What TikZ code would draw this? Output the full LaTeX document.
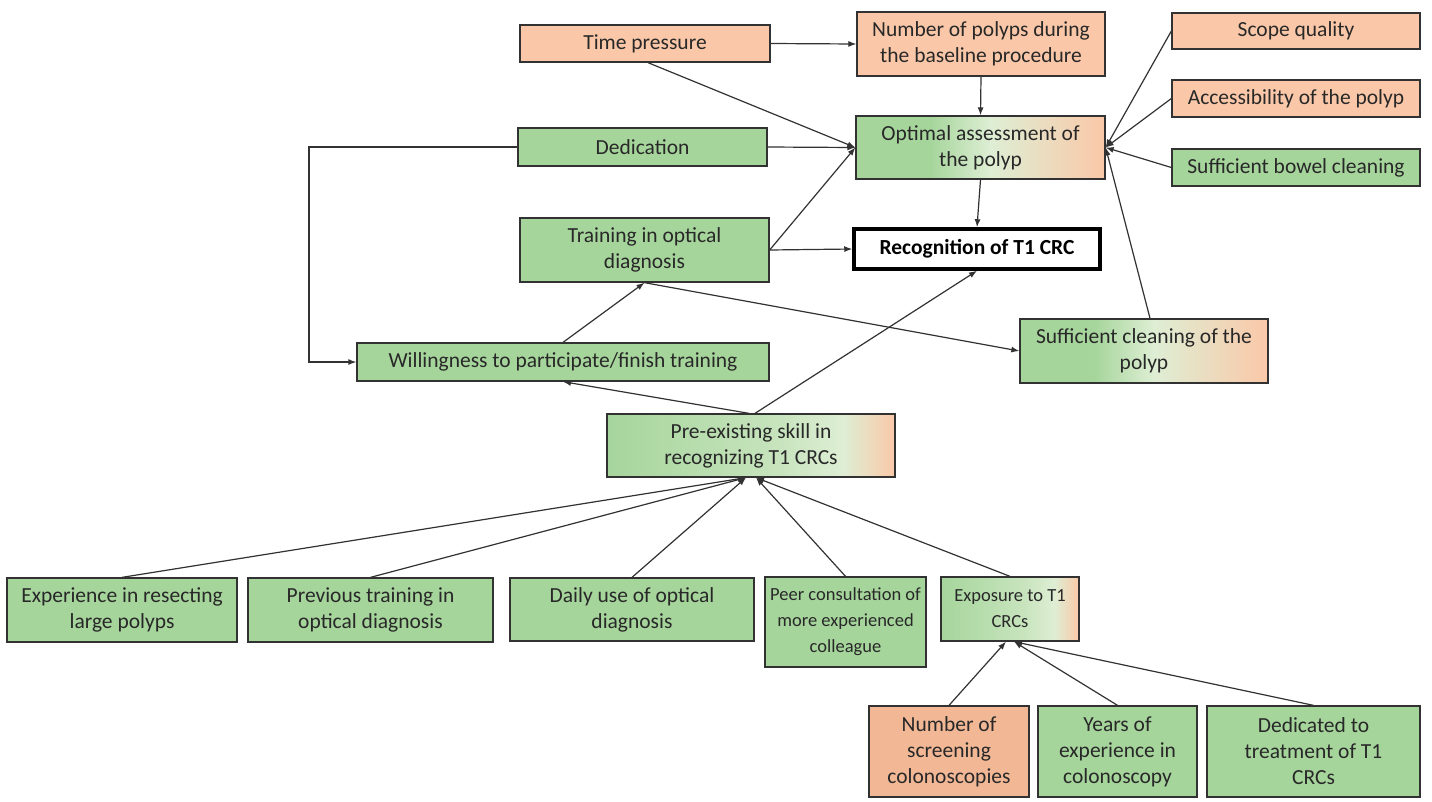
\documentclass[tikz,border=0pt]{standalone}
\usepackage{fontspec}
\setmainfont{Carlito}
\usetikzlibrary{arrows.meta,calc}
\definecolor{grn}{RGB}{166,213,156}
\definecolor{grnl}{RGB}{222,238,212}
\definecolor{org}{RGB}{250,200,168}
\definecolor{orgd}{RGB}{242,184,150}
\definecolor{edgec}{RGB}{50,50,50}
\definecolor{txt}{RGB}{40,40,40}
\pgfdeclarehorizontalshading{gromid}{100bp}{color(0bp)=(grn); color(25bp)=(grn); color(40bp)=(grn); color(52bp)=(grnl); color(75bp)=(org); color(100bp)=(org)}
\pgfdeclarehorizontalshading{grolate}{100bp}{color(0bp)=(grn); color(25bp)=(grn); color(55bp)=(grnl!60!grn); color(66bp)=(grnl); color(75bp)=(org); color(100bp)=(org)}
\begin{document}
\begin{tikzpicture}[x=1pt,y=-1pt,
  box/.style={draw=edgec, line width=1.3pt, rectangle, inner sep=0pt, align=center,
    text=txt, font=\fontsize{21.5}{26}\selectfont},
  small/.style={font=\fontsize{18.5}{26}\selectfont},
  gbox/.style={box, fill=grn},
  obox/.style={box, fill=org},
  arr/.style={draw=edgec, line width=1.2pt, -{Latex[length=8pt,width=6pt]}}]
\useasboundingbox (0,0) rectangle (1432,801);
\fill[white] (0,0) rectangle (1432,801);

% top row
\node[obox, minimum width=250, minimum height=37] (tp) at (645,43.5) {Time pressure};
\node[obox, minimum width=248, minimum height=64] (np) at (981,44) {Number of polyps during\\the baseline procedure};
\node[obox, minimum width=248, minimum height=36] (sq) at (1296,31) {Scope quality};
\node[obox, minimum width=248, minimum height=37] (ac) at (1296,98.5) {Accessibility of the polyp};
\node[gbox, minimum width=248, minimum height=37] (sb) at (1296,167.5) {Sufficient bowel cleaning};
\node[gbox, minimum width=249, minimum height=38] (de) at (642.5,147) {Dedication};
\node[box, shading=gromid, minimum width=249, minimum height=63] (oa) at (980.5,147.5) {Optimal assessment of\\the polyp};
\node[gbox, minimum width=249, minimum height=64] (tr) at (644.5,250) {Training in optical\\diagnosis};
\node[draw=black, line width=3.5pt, fill=white, inner sep=0pt, minimum width=246, minimum height=40,
  font=\fontsize{21.5}{26}\selectfont\bfseries, text=black] (rc) at (977,249) {Recognition of T1 CRC};
\node[box, shading=gromid, minimum width=248, minimum height=64] (sc) at (1144,351) {Sufficient cleaning of the\\polyp};
\node[gbox, minimum width=412, minimum height=38] (wi) at (563,362) {Willingness to participate/finish training};
\node[box, shading=grolate, minimum width=288, minimum height=63] (pe) at (751,445.5) {Pre-existing skill in\\recognizing T1 CRCs};

% bottom rows
\node[gbox, minimum width=230, minimum height=64] (ex) at (122,610) {Experience in resecting\\large polyps};
\node[gbox, minimum width=245, minimum height=64] (pt) at (370.5,610) {Previous training in\\optical diagnosis};
\node[gbox, minimum width=244, minimum height=63] (du) at (632,609.5) {Daily use of optical\\diagnosis};
\node[gbox, small, minimum width=161, minimum height=90] (pc) at (845.5,622) {Peer consultation of\\more experienced\\colleague};
\node[box, small, shading=grolate, minimum width=138, minimum height=64] (et) at (1010,609) {Exposure to T1\\CRCs};
\node[box, fill=orgd, minimum width=160, minimum height=91] (ns) at (949,751.5) {Number of\\screening\\colonoscopies};
\node[gbox, minimum width=159, minimum height=91] (ye) at (1117.5,751.5) {Years of\\experience in\\colonoscopy};
\node[gbox, minimum width=213, minimum height=91] (dt) at (1313.5,751.5) {Dedicated to\\treatment of T1\\CRCs};

% connectors
\coordinate (lp) at (309,147);
\draw[arr] (tp.east) -- (np.west);
\draw[arr] ($(tp.south)+(3,0)$) -- (oa.west);
\draw[arr] (de.east) -- (oa.west);
\draw[arr] (tr.east) -- (oa.west);
\draw[arr] (np.south) -- (oa.north);
\draw[arr] (sq.west) -- (oa.east);
\draw[arr] (ac.west) -- (oa.east);
\draw[arr] (sb.west) -- (oa.east);
\draw[arr] ($(sc.north)+(6,0)$) -- (oa.east);
\draw[arr] (oa.south) -- (rc.north);
\draw[arr] (tr.east) -- (rc.west);
\draw[arr] ($(pe.north)+(4,0)$) -- (rc.south);
\draw[arr] (de.west) -- (lp) |- (wi.west);
\draw[arr] (wi.north) -- (tr.south);
\draw[arr] (tr.south) -- (sc.west);
\draw[arr] ($(pe.north)+(-2,0)$) -- (wi.south);
\draw[arr] (ex.north) -- ($(pe.south)+(-5,0)$);
\draw[arr] (pt.north) -- ($(pe.south)+(-5,0)$);
\draw[arr] (du.north) -- ($(pe.south)+(-5,0)$);
\draw[arr] (pc.north) -- ($(pe.south)+(5,0)$);
\draw[arr] (et.north) -- ($(pe.south)+(5,0)$);
\draw[arr] (ns.north) -- ($(et.south)+(-4,0)$);
\draw[arr] (ye.north) -- ($(et.south)+(4,0)$);
\draw[arr] (dt.north) -- ($(et.south)+(4,0)$);
\end{tikzpicture}
\end{document}
